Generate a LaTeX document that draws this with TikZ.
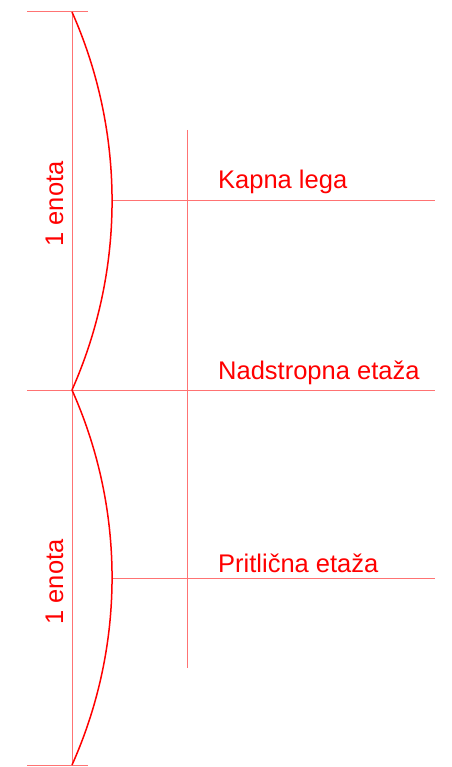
\documentclass[tikz,border=0pt]{standalone}
\usepackage{fontspec}
\setmainfont{Liberation Sans}
\begin{document}
\begin{tikzpicture}[x=1pt,y=-1pt,
  thinline/.style={draw=red!55,line width=1pt},
  curveline/.style={draw=red,line width=1.5pt},
  lbl/.style={text=red,font=\fontsize{25.5}{30}\selectfont,inner sep=0pt}]
\useasboundingbox (0,0) rectangle (451,767);
% coordinates
\coordinate (tl) at (27,12); \coordinate (tr) at (88,12);
\coordinate (bl) at (27,765); \coordinate (br) at (88,765);
\coordinate (ml) at (27,390); \coordinate (mr) at (435,390);
\coordinate (vt) at (72,12); \coordinate (vm) at (72,390); \coordinate (vb) at (72,765);
\coordinate (kl) at (112,201); \coordinate (kr) at (435,201);
\coordinate (pl) at (112,578); \coordinate (pr) at (435,578);
\coordinate (st) at (187,130); \coordinate (sb) at (187,668);
% thin lines
\draw[thinline] (tl) -- (tr);
\draw[thinline] (bl) -- (br);
\draw[thinline] (ml) -- (mr);
\draw[thinline] (vt) -- (vb);
\draw[thinline] (kl) -- (kr);
\draw[thinline] (pl) -- (pr);
\draw[thinline] (st) -- (sb);
% arcs
\draw[curveline] (vt) .. controls (125.4,132.4) and (125.4,269.6) .. (vm);
\draw[curveline] (vm) .. controls (125.4,509.5) and (125.4,645.5) .. (vb);
% labels
\node[lbl,anchor=base west] (kapna) at (218,189) {Kapna lega};
\node[lbl,anchor=base west] (nad) at (218,379) {Nadstropna etaža};
\node[lbl,anchor=base west] (prit) at (218,572) {Pritlična etaža};
\node[lbl,rotate=90,anchor=base] (e1) at (63,204) {1 enota};
\node[lbl,rotate=90,anchor=base] (e2) at (63,582) {1 enota};
\end{tikzpicture}
\end{document}
